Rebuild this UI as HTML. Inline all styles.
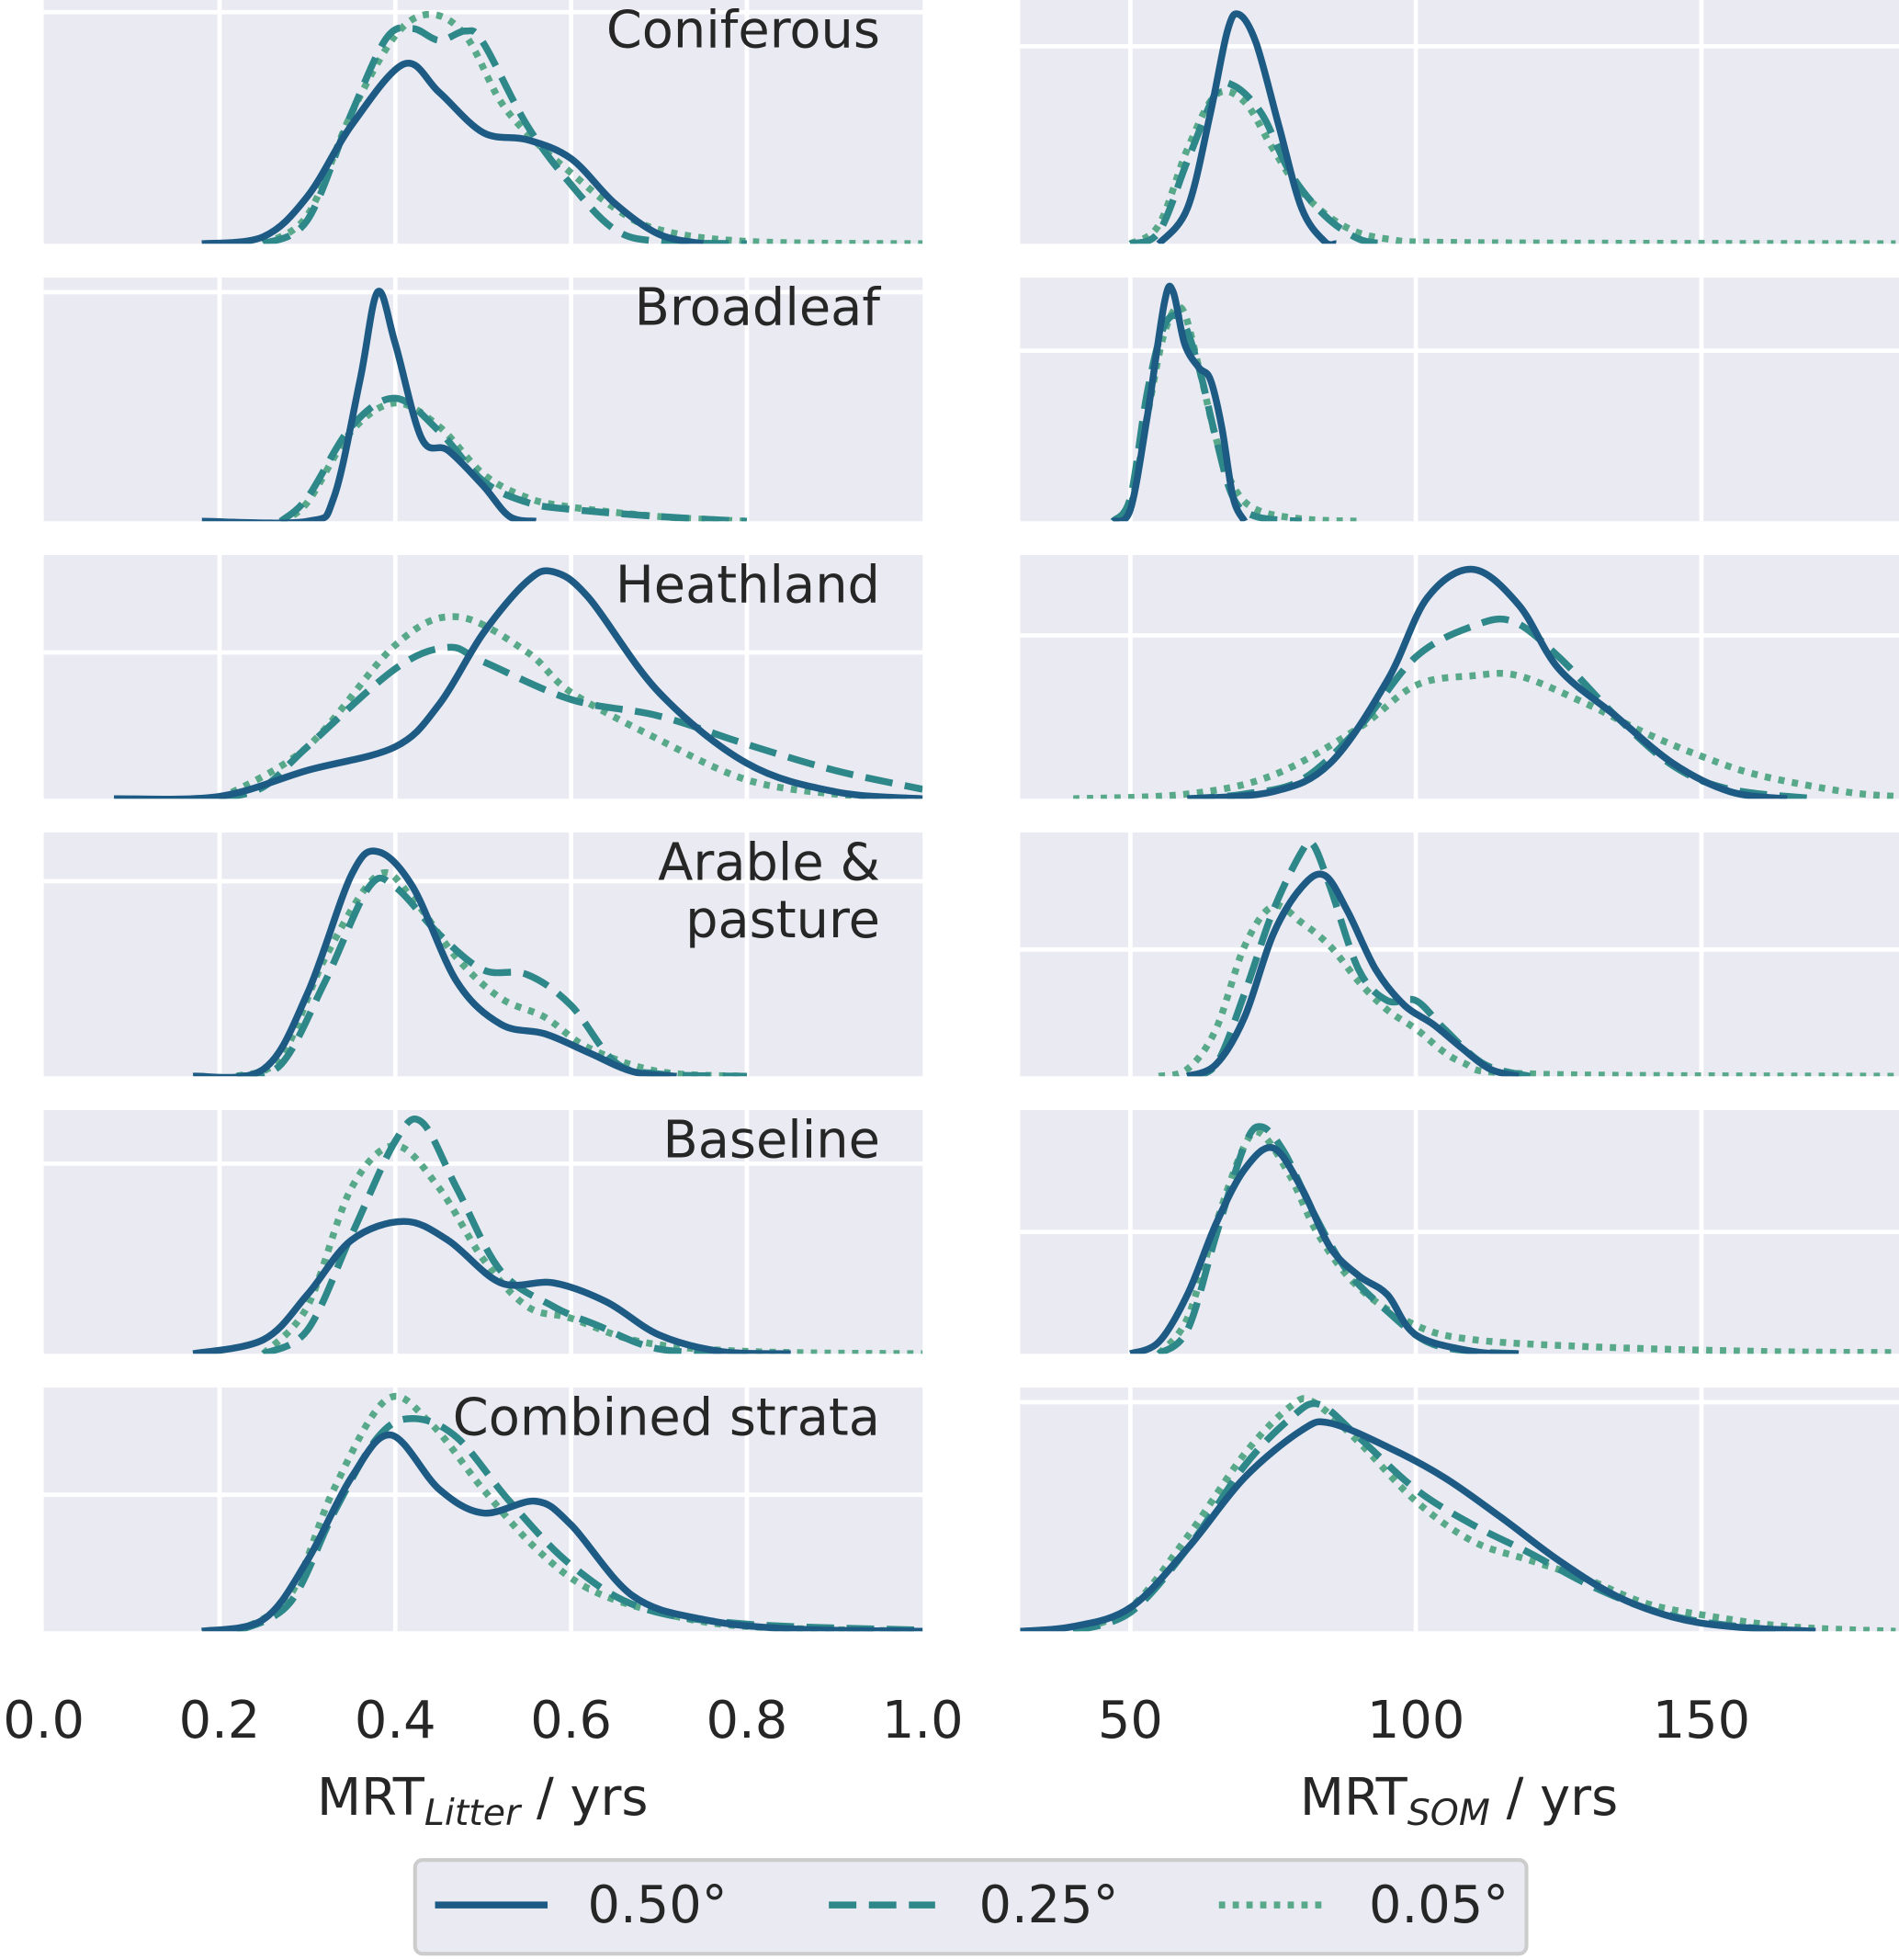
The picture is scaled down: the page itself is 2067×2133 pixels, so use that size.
<!DOCTYPE html>
<html><head><meta charset="utf-8"><style>
html,body{margin:0;padding:0;background:#fff;}
svg{display:block;font-family:"DejaVu Sans","Liberation Sans",sans-serif;}
</style></head><body>
<svg id="chart" width="2067" height="2133" viewBox="0 0 1519 1568" preserveAspectRatio="none" xmlns="http://www.w3.org/2000/svg">
<defs id="defs"></defs>
<g id="panels"></g>
<g id="ticks" fill="#262626" font-size="41"></g>
<text x="386" y="1452" text-anchor="middle" font-size="41" fill="#262626">MRT<tspan font-style="italic" font-size="29" dy="8">Litter</tspan><tspan dy="-8"> / yrs</tspan></text>
<text x="1167" y="1452" text-anchor="middle" font-size="41" fill="#262626">MRT<tspan font-style="italic" font-size="29" dy="8">SOM</tspan><tspan dy="-8"> / yrs</tspan></text>
<g>
<rect x="332" y="1488" width="889" height="75" rx="6" fill="#eaeaf2" stroke="#cccccc" stroke-width="3"/>
<line x1="348" y1="1524" x2="438" y2="1524" stroke="#1d5a84" stroke-width="5.5"/>
<text x="470" y="1538" font-size="41" fill="#262626">0.50°</text>
<line x1="663" y1="1524" x2="748" y2="1524" stroke="#2e8788" stroke-width="5.5" stroke-dasharray="22 10"/>
<text x="783" y="1538" font-size="41" fill="#262626">0.25°</text>
<line x1="975" y1="1524" x2="1060" y2="1524" stroke="#58a88a" stroke-width="5.5" stroke-dasharray="5 6"/>
<text x="1095" y="1538" font-size="41" fill="#262626">0.05°</text>
</g>
</svg>
<script>
const categories = ["Coniferous","Broadleaf","Heathland","Arable & pasture","Baseline","Combined strata"];
const leftTicks = [0.0,0.2,0.4,0.6,0.8,1.0];
const rightTicks = [50,100,150];
const L_solid = [
 [[0.18,0],[0.25,0.03],[0.3,0.2],[0.35,0.5],[0.41,0.76],[0.45,0.64],[0.5,0.47],[0.55,0.44],[0.6,0.36],[0.65,0.17],[0.7,0.04],[0.75,0]],
 [[0.18,0],[0.3,0],[0.33,0.1],[0.36,0.6],[0.38,0.97],[0.4,0.75],[0.43,0.35],[0.46,0.3],[0.5,0.15],[0.53,0.02],[0.56,0]],
 [[0.08,0],[0.2,0.01],[0.3,0.12],[0.4,0.22],[0.45,0.4],[0.5,0.7],[0.55,0.92],[0.58,0.96],[0.62,0.85],[0.7,0.45],[0.8,0.15],[0.9,0.03],[1.0,0]],
 [[0.17,0],[0.25,0.03],[0.3,0.35],[0.35,0.85],[0.38,0.95],[0.42,0.8],[0.47,0.4],[0.52,0.22],[0.57,0.18],[0.62,0.1],[0.67,0.02],[0.72,0]],
 [[0.17,0],[0.25,0.06],[0.3,0.25],[0.35,0.48],[0.41,0.56],[0.46,0.48],[0.52,0.3],[0.58,0.3],[0.64,0.22],[0.7,0.08],[0.77,0.01],[0.85,0]],
 [[0.18,0],[0.25,0.05],[0.3,0.3],[0.35,0.65],[0.395,0.83],[0.45,0.6],[0.5,0.5],[0.56,0.55],[0.6,0.45],[0.67,0.15],[0.75,0.05],[0.85,0.01],[1.0,0]]
];
const L_dashed = [
 [[0.25,0],[0.3,0.1],[0.35,0.55],[0.39,0.87],[0.42,0.91],[0.45,0.86],[0.48,0.9],[0.5,0.85],[0.55,0.5],[0.6,0.25],[0.65,0.06],[0.7,0.01],[0.8,0]],
 [[0.27,0],[0.3,0.1],[0.35,0.4],[0.4,0.52],[0.45,0.38],[0.5,0.17],[0.55,0.08],[0.6,0.05],[0.7,0.02],[0.8,0]],
 [[0.2,0],[0.25,0.05],[0.3,0.22],[0.4,0.55],[0.46,0.64],[0.5,0.58],[0.6,0.42],[0.7,0.35],[0.8,0.23],[0.9,0.12],[1.0,0.04]],
 [[0.22,0],[0.27,0.05],[0.32,0.4],[0.37,0.8],[0.4,0.8],[0.45,0.6],[0.5,0.45],[0.55,0.43],[0.6,0.3],[0.65,0.06],[0.7,0.01],[0.8,0]],
 [[0.25,0],[0.3,0.1],[0.35,0.5],[0.4,0.9],[0.43,0.98],[0.47,0.7],[0.52,0.35],[0.58,0.2],[0.63,0.12],[0.7,0.02],[0.8,0]],
 [[0.22,0],[0.28,0.12],[0.33,0.5],[0.38,0.82],[0.42,0.9],[0.47,0.82],[0.53,0.55],[0.6,0.28],[0.68,0.1],[0.8,0.03],[1.0,0.005]]
];
const L_dotted = [
 [[0.25,0],[0.3,0.12],[0.35,0.55],[0.4,0.88],[0.44,0.97],[0.48,0.88],[0.52,0.6],[0.56,0.43],[0.6,0.3],[0.65,0.15],[0.7,0.06],[0.8,0.01],[1.0,0]],
 [[0.27,0],[0.3,0.08],[0.35,0.38],[0.4,0.5],[0.45,0.4],[0.5,0.2],[0.55,0.1],[0.6,0.06],[0.7,0.02],[0.8,0]],
 [[0.2,0],[0.3,0.22],[0.4,0.65],[0.47,0.77],[0.55,0.62],[0.6,0.45],[0.7,0.25],[0.8,0.08],[0.9,0.02],[1.0,0]],
 [[0.22,0],[0.27,0.08],[0.32,0.5],[0.38,0.85],[0.42,0.75],[0.47,0.5],[0.52,0.33],[0.57,0.25],[0.62,0.12],[0.7,0.02],[0.8,0]],
 [[0.25,0],[0.3,0.2],[0.35,0.7],[0.4,0.88],[0.45,0.7],[0.5,0.4],[0.55,0.2],[0.6,0.15],[0.68,0.05],[0.8,0.01],[1.0,0]],
 [[0.22,0],[0.28,0.15],[0.33,0.6],[0.39,0.98],[0.44,0.88],[0.5,0.6],[0.56,0.35],[0.62,0.18],[0.7,0.08],[0.8,0.02],[1.0,0]]
];
const R_solid = [
 [[55,0],[60,0.15],[64,0.55],[67,0.9],[69,0.97],[72,0.85],[76,0.5],[80,0.15],[84,0.01],[86,0]],
 [[47,0],[50,0.05],[53,0.45],[56,0.93],[57.5,0.97],[59.5,0.75],[62,0.65],[64,0.6],[66,0.4],[68,0.1],[70,0]],
 [[60,0],[75,0.03],[85,0.15],[95,0.5],[102,0.85],[110,0.97],[118,0.82],[125,0.55],[135,0.35],[145,0.15],[155,0.03],[165,0]],
 [[60,0],[65,0.05],[70,0.25],[75,0.6],[80,0.8],[84,0.85],[88,0.7],[93,0.45],[98,0.3],[103,0.22],[108,0.12],[113,0.03],[118,0]],
 [[50,0],[55,0.05],[60,0.25],[65,0.55],[70,0.78],[75,0.87],[80,0.7],[85,0.45],[90,0.33],[95,0.25],[100,0.08],[110,0.01],[118,0]],
 [[30.7,0],[40,0.02],[50,0.1],[60,0.35],[70,0.65],[80,0.85],[85,0.88],[95,0.78],[105,0.65],[115,0.48],[125,0.3],[135,0.15],[145,0.06],[155,0.02],[170,0]]
];
const R_dashed = [
 [[50,0],[55,0.05],[60,0.35],[65,0.64],[68,0.67],[73,0.55],[78,0.3],[84,0.12],[90,0.02],[95,0]],
 [[47,0],[50,0.1],[53,0.55],[56,0.83],[59,0.85],[62,0.65],[65,0.35],[68,0.1],[72,0.02],[80,0]],
 [[60,0],[70,0.02],[80,0.08],[90,0.3],[100,0.6],[110,0.73],[117,0.75],[125,0.6],[135,0.35],[145,0.14],[155,0.04],[170,0]],
 [[60,0],[65,0.05],[70,0.35],[75,0.7],[80,0.95],[82,0.98],[85,0.8],[90,0.45],[95,0.32],[100,0.32],[105,0.2],[112,0.05],[120,0]],
 [[55,0],[60,0.1],[65,0.5],[70,0.88],[73,0.96],[77,0.85],[82,0.6],[88,0.35],[95,0.18],[102,0.05],[110,0.01],[120,0]],
 [[40,0],[50,0.08],[60,0.35],[70,0.7],[78,0.9],[83,0.96],[90,0.82],[100,0.6],[110,0.45],[120,0.33],[130,0.2],[140,0.1],[150,0.04],[165,0]]
];
const R_dotted = [
 [[50,0],[55,0.08],[60,0.4],[65,0.63],[70,0.6],[75,0.4],[80,0.22],[87,0.08],[95,0.02],[110,0.005],[184,0]],
 [[47,0],[50,0.06],[53,0.45],[56,0.8],[59,0.9],[62,0.65],[65,0.35],[68,0.15],[72,0.05],[80,0.01],[90,0]],
 [[40,0],[60,0.02],[75,0.1],[90,0.3],[100,0.48],[110,0.52],[118,0.52],[130,0.4],[140,0.28],[150,0.18],[160,0.1],[175,0.03],[184,0.01]],
 [[55,0],[60,0.03],[65,0.2],[70,0.55],[75,0.72],[80,0.65],[85,0.55],[90,0.4],[95,0.28],[100,0.2],[108,0.06],[120,0.01],[184,0]],
 [[55,0],[60,0.15],[65,0.55],[70,0.88],[73,0.93],[78,0.75],[83,0.5],[90,0.28],[100,0.12],[110,0.06],[130,0.03],[160,0.01],[184,0.005]],
 [[40,0],[50,0.1],[60,0.4],[70,0.75],[78,0.95],[82,0.97],[90,0.8],[100,0.55],[110,0.38],[120,0.3],[130,0.22],[140,0.12],[150,0.07],[165,0.02],[184,0]]
];
const L_hgrid = [0.95,0.94,0.6,0.8,0.78,0.56];
const R_hgrid = [0.81,0.7,0.67,0.52,0.5,0.94];

const NS="http://www.w3.org/2000/svg";
const panelTops=[0,222,444,666,888,1110], PH=195;
const LX0=35,LX1=738, RX0=816,RX1=1519;
const lx=v=>LX0+(v-0)/(1-0)*(LX1-LX0);
const rx=v=>RX0+(v-30.7)/(184.6-30.7)*(RX1-RX0);
const styles={solid:{c:"#1d5a84",d:null},dashed:{c:"#2e8788",d:"22 10"},dotted:{c:"#58a88a",d:"5 6"}};
function mk(t,a,p){const e=document.createElementNS(NS,t);for(const k in a)e.setAttribute(k,a[k]);p.appendChild(e);return e;}
function smooth(pts){let d="M"+pts[0][0].toFixed(1)+","+pts[0][1].toFixed(1);
 for(let i=0;i<pts.length-1;i++){const p0=pts[i-1]||pts[i],p1=pts[i],p2=pts[i+1],p3=pts[i+2]||p2;
  const c1=[p1[0]+(p2[0]-p0[0])/6,p1[1]+(p2[1]-p0[1])/6],c2=[p2[0]-(p3[0]-p1[0])/6,p2[1]-(p3[1]-p1[1])/6];
  d+=` C${c1[0].toFixed(1)},${c1[1].toFixed(1)} ${c2[0].toFixed(1)},${c2[1].toFixed(1)} ${p2[0].toFixed(1)},${p2[1].toFixed(1)}`;}
 return d;}
const panels=document.getElementById('panels'), defs=document.getElementById('defs');
function drawPanel(side,i){
 const top=panelTops[i], x0=side==='L'?LX0:RX0, x1=side==='L'?LX1:RX1, sx=side==='L'?lx:rx;
 const g=mk('g',{},panels);
 
 
 mk('rect',{x:x0,y:top,width:x1-x0,height:PH,fill:"#eaeaf2"},g);
 const cid='clip'+side+i;
 const cp=mk('clipPath',{id:cid},defs); mk('rect',{x:x0,y:top,width:x1-x0,height:PH},cp);
 const ticks=side==='L'?leftTicks:rightTicks;
 ticks.forEach(t=>{const x=sx(t); if(x>x0+2&&x<x1-2) mk('line',{x1:x,x2:x,y1:top,y2:top+PH,stroke:"#fff","stroke-width":3.5},g);});
 const hg=(side==='L'?L_hgrid:R_hgrid)[i]; const hy=top+PH*(1-hg);
 mk('line',{x1:x0,x2:x1,y1:hy,y2:hy,stroke:"#fff","stroke-width":3.5},g);
 const sets=side==='L'?{dotted:L_dotted,dashed:L_dashed,solid:L_solid}:{dotted:R_dotted,dashed:R_dashed,solid:R_solid};
 for(const k of ["dotted","dashed","solid"]){
  const pts=sets[k][i].map(p=>[sx(p[0]),top+PH-p[1]*PH*0.97]);
  const a={d:smooth(pts),fill:"none",stroke:styles[k].c,"stroke-width":5.5,"clip-path":`url(#${cid})`,"stroke-linejoin":"round"};
  if(styles[k].d)a["stroke-dasharray"]=styles[k].d;
  const p=mk('path',a,g);
  
  
 }
}
for(let i=0;i<6;i++){drawPanel('L',i);drawPanel('R',i);}
const titleY=[38,260,482,704,926,1148];
categories.forEach((c,i)=>{
 const parts=c==="Arable & pasture"?["Arable &","pasture"]:[c];
 parts.forEach((s,j)=>{const t=mk('text',{x:704,y:titleY[i]+j*46,"text-anchor":"end","font-size":41,fill:"#262626"},panels);
  t.textContent=s;
  
  });
});
const tg=document.getElementById('ticks');
leftTicks.forEach(t=>{const e=mk('text',{x:lx(t),y:1390,"text-anchor":"middle"},tg);e.textContent=t.toFixed(1);
 
 });
rightTicks.forEach(t=>{const e=mk('text',{x:rx(t),y:1390,"text-anchor":"middle"},tg);e.textContent=String(t);
 
 });
</script>
</body></html>
